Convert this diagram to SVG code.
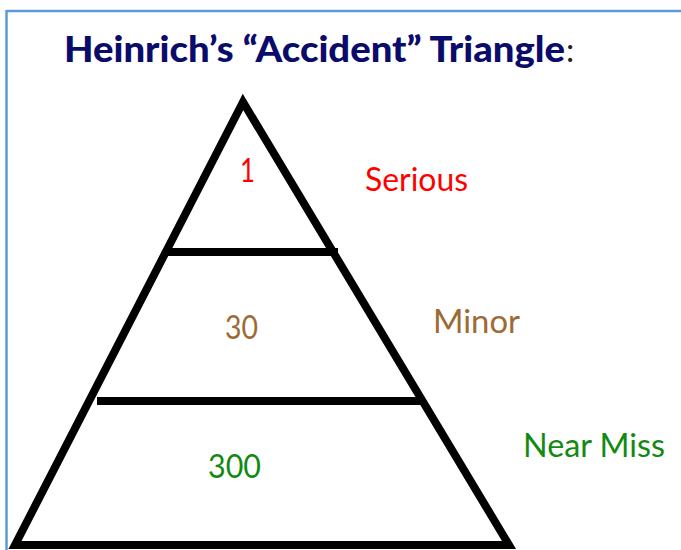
<svg xmlns="http://www.w3.org/2000/svg" width="681" height="550" viewBox="0 0 681 550">
  <style>
    .frame { stroke: #5B9BD5; stroke-width: 2.5; fill: none; }
    .tri { stroke: #000; stroke-width: 8; fill: #fff; stroke-linejoin: miter; }
    .bar { stroke: #000; stroke-width: 8; fill: none; }
    .lbl { font-family: Lato, "Open Sans", "Liberation Sans", sans-serif; font-size: 33px; }
    .title { font-family: Lato, "Open Sans", "Liberation Sans", sans-serif; font-size: 36px; font-weight: 900; fill: #0B0B6B; }
    .red { fill: #FF0000; }
    .brown { fill: #9E6A34; }
    .green { fill: #128A12; }
  </style>
  <rect width="681" height="550" fill="#fff"/>
  <g id="frame">
    <line class="frame" x1="6.5" y1="11" x2="681" y2="11"/>
    <line class="frame" x1="6.5" y1="10" x2="6.5" y2="550"/>
  </g>
  <g id="title">
    <text class="title" x="64" y="62" textLength="501" lengthAdjust="spacingAndGlyphs">Heinrich’s “Accident” Triangle</text>
    <text class="lbl" x="566" y="62" fill="#222" font-size="34">:</text>
  </g>
  <g id="triangle">
    <polygon class="tri" points="243,102 15,545 509,545"/>
    <line class="bar" x1="164" y1="252" x2="338" y2="252"/>
    <line class="bar" x1="97" y1="401" x2="425" y2="401"/>
  </g>
  <g id="level-serious">
    <text class="lbl red" x="240" y="182" textLength="15" lengthAdjust="spacingAndGlyphs">1</text>
    <text class="lbl red" x="365" y="191" textLength="103" lengthAdjust="spacingAndGlyphs">Serious</text>
  </g>
  <g id="level-minor">
    <text class="lbl brown" x="225" y="339" textLength="33" lengthAdjust="spacingAndGlyphs">30</text>
    <text class="lbl brown" x="433" y="333" textLength="87" lengthAdjust="spacingAndGlyphs">Minor</text>
  </g>
  <g id="level-nearmiss">
    <text class="lbl green" x="208" y="478" textLength="53" lengthAdjust="spacingAndGlyphs">300</text>
    <text class="lbl green" x="523" y="457" textLength="142" lengthAdjust="spacingAndGlyphs">Near Miss</text>
  </g>
</svg>
